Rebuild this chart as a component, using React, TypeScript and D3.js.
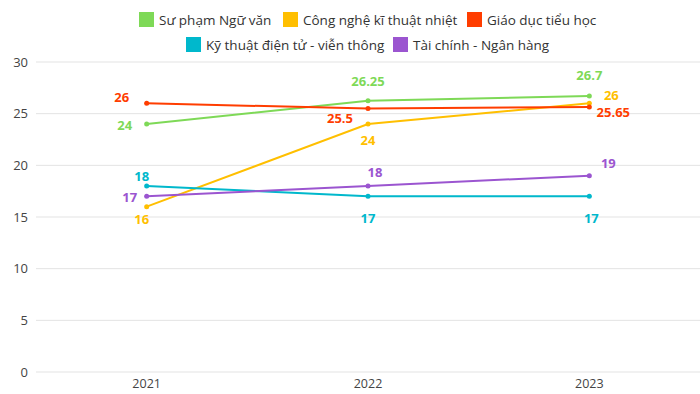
import React from 'react';
import * as d3 from 'd3';

// years on the x axis
const years = ['2021', '2022', '2023'];
const yTicks = [0, 5, 10, 15, 20, 25, 30];

const seriesNames = [
  'Sư phạm Ngữ văn',
  'Công nghệ kĩ thuật nhiệt',
  'Giáo dục tiểu học',
  'Kỹ thuật điện tử - viễn thông',
  'Tài chính - Ngân hàng',
];
const nguVan = [24, 26.25, 26.7];
const nhiet = [16, 24, 26];
const tieuHoc = [26, 25.5, 25.65];
const dienTu = [18, 17, 17];
const taiChinh = [17, 18, 19];
const seriesValues = [nguVan, nhiet, tieuHoc, dienTu, taiChinh];

const colors = ['#7ed957', '#ffbf00', '#ff3d00', '#00b8cc', '#9b55d0'];

// label offsets (dx, dy) per point, from the point
const labelOffsets = [
  [[-22, 1], [0, -19], [0, -21]],
  [[-5, 13], [0, 16], [22, -8]],
  [[-25, -6], [-28, 10], [24, 5]],
  [[-5, -10], [0, 22], [2, 22]],
  [[-17, 1], [7, -14], [19, -12]],
];

const width = 700;
const height = 394;
const margin = { top: 62, right: 0, bottom: 22, left: 36 };
const font = "'Open Sans', sans-serif";

function App() {
  const x = d3.scalePoint().domain(years).range([margin.left, width - margin.right]).padding(0.5);
  const y = d3.scaleLinear().domain([0, 30]).range([height - margin.bottom, margin.top]);
  const line = d3.line<number>()
    .x((d, i) => x(years[i]) as number)
    .y((d) => y(d));

  const legendRows = [
    [{ i: 0, x: 139 }, { i: 1, x: 283 }, { i: 2, x: 467 }],
    [{ i: 3, x: 186 }, { i: 4, x: 393 }],
  ];

  return (
    <svg width={width} height={height} style={{ position: 'absolute', left: 0, top: 0, background: '#fff' }}>
      {/* grid */}
      {yTicks.map((t) => (
        <g key={t}>
          <line x1={margin.left} x2={width} y1={y(t)} y2={y(t)} stroke="#e3e3e3" strokeWidth={1} />
          <text x={28} y={y(t)} dy="0.35em" textAnchor="end" fontFamily={font} fontSize={13} fill="#444">{t}</text>
        </g>
      ))}
      {years.map((yr) => (
        <text key={yr} x={x(yr)} y={384} dy="0.35em" textAnchor="middle" fontFamily={font} fontSize={12.5} fill="#444">{yr}</text>
      ))}
      {/* lines */}
      {seriesValues.map((vals, s) => (
        <g key={s}>
          <path d={line(vals) || ''} fill="none" stroke={colors[s]} strokeWidth={2} />
          {vals.map((v, i) => (
            <circle key={i} cx={x(years[i])} cy={y(v)} r={2.5} fill={colors[s]} />
          ))}
        </g>
      ))}
      {/* data labels */}
      {seriesValues.map((vals, s) => (
        <g key={'l' + s}>
          {vals.map((v, i) => (
            <text key={i} x={(x(years[i]) as number) + labelOffsets[s][i][0]} y={y(v) + labelOffsets[s][i][1]}
              dy="0.35em" textAnchor="middle" fontFamily={font} fontSize={13} fontWeight="bold" fill={colors[s]}>{v}</text>
          ))}
        </g>
      ))}
      {/* legend */}
      {legendRows.map((row, r) => (
        <g key={r}>
          {row.map((item) => (
            <g key={item.i} transform={`translate(${item.x},${12 + r * 25})`}>
              <rect width={15} height={15} fill={colors[item.i]} />
              <text x={20} y={8} dy="0.35em" fontFamily={font} fontSize={13.5} fill="#333">{seriesNames[item.i]}</text>
            </g>
          ))}
        </g>
      ))}
    </svg>
  );
}

export default App;
